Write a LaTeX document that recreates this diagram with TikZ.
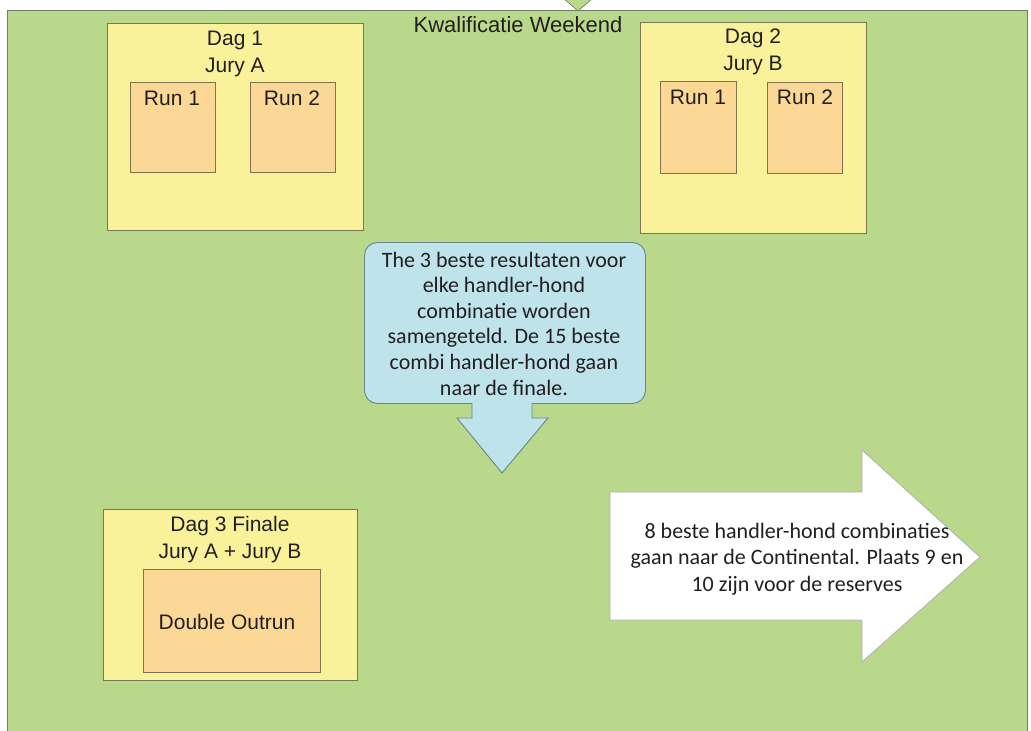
\documentclass[tikz,border=0pt]{standalone}
\usepackage{fontspec}
\setmainfont{Liberation Sans}
\newfontfamily\calfont{Carlito}
\definecolor{bggreen}{RGB}{185,216,139}
\definecolor{bgline}{RGB}{110,125,100}
\definecolor{boxyellow}{RGB}{250,242,155}
\definecolor{boxline}{RGB}{120,120,85}
\definecolor{runorange}{RGB}{251,216,150}
\definecolor{runline}{RGB}{130,115,80}
\definecolor{callblue}{RGB}{190,227,234}
\definecolor{callline}{RGB}{105,135,135}
\definecolor{arrline}{RGB}{175,175,175}
\definecolor{txt}{RGB}{35,31,32}
\begin{document}
\begin{tikzpicture}[x=1pt,y=-1pt,
  rect/.style={inner sep=0pt,anchor=north west,line width=0.9pt},
  bgbox/.style={rect,draw=bgline,fill=bggreen},
  daybox/.style={rect,draw=boxline,fill=boxyellow},
  runbox/.style={rect,draw=runline,fill=runorange},
  arialtxt/.style={text=txt,inner sep=0pt,anchor=base,align=center,font=\fontsize{21}{27}\selectfont},
  calitxt/.style={text=txt,inner sep=0pt,anchor=base,align=center,font=\calfont\fontsize{22}{25.6}\selectfont},
]
\useasboundingbox (0,0) rectangle (1031,731);
\fill[white] (0,0) rectangle (1031,731);
% background panel
\node[bgbox,minimum width=1020pt,minimum height=740pt] (bg) at (7,10) {};
% small triangle at top
\draw[fill=bggreen,draw=bgline,line width=0.6pt] (563,-2) -- (578,11) -- (593,-2);
\node[arialtxt,font=\fontsize{22}{26}\selectfont] (title) at (518,32) {Kwalificatie Weekend};

% Dag 1
\node[daybox,minimum width=256pt,minimum height=207pt] (dag1) at (107,23) {};
\node[arialtxt] (dag1t) at (235,72) {Dag 1\\Jury A};
\node[runbox,minimum width=85pt,minimum height=90pt] (r1a) at (130,82) {};
\node[runbox,minimum width=85pt,minimum height=90pt] (r2a) at (250,82) {};
\node[arialtxt] (r1at) at (172,105) {Run 1};
\node[arialtxt] (r2at) at (292,105) {Run 2};

% Dag 2
\node[daybox,minimum width=226pt,minimum height=211pt] (dag2) at (640,22) {};
\node[arialtxt] (dag2t) at (753,70) {Dag 2\\Jury B};
\node[runbox,minimum width=76pt,minimum height=92pt] (r1b) at (660,81) {};
\node[runbox,minimum width=75pt,minimum height=91pt] (r2b) at (767,82) {};
\node[arialtxt] (r1bt) at (698,104) {Run 1};
\node[arialtxt] (r2bt) at (805,104) {Run 2};

% Dag 3
\node[daybox,minimum width=254pt,minimum height=171pt] (dag3) at (103,509) {};
\node[arialtxt] (dag3t) at (230,558) {Dag 3 Finale\\Jury A + Jury B};
\node[runbox,minimum width=177pt,minimum height=103pt] (dbl) at (143,569) {};
\node[arialtxt] (dblt) at (227,629) {Double Outrun};

% blue callout
\node[rect,draw=callline,fill=callblue,rounded corners=13pt,minimum width=281pt,minimum height=161pt] (call) at (364,242) {};
\fill[callblue] (472,401.5) -- (472,418) -- (457,418) -- (502,473) -- (548,418) -- (532,418) -- (532,401.5) -- cycle;
\draw[callline,line width=0.9pt,line join=miter] (472,403) -- (472,418) -- (457,418) -- (502,473) -- (548,418) -- (532,418) -- (532,403);
\node[calitxt] (callt) at (504,395) {The 3 beste resultaten voor\\elke handler-hond\\combinatie worden\\samengeteld. De 15 beste\\combi handler-hond gaan\\naar de finale.};

% white arrow
\draw[fill=white,draw=arrline,line width=0.8pt] (610,492) -- (862,492) -- (862,450) -- (980,557) -- (862,662) -- (862,620) -- (610,620) -- cycle;
\node[calitxt,font=\calfont\fontsize{22}{26.5}\selectfont] (arrt) at (797,591) {8 beste handler-hond combinaties\\gaan naar de Continental. Plaats 9 en\\10 zijn voor de reserves};
\end{tikzpicture}
\end{document}
